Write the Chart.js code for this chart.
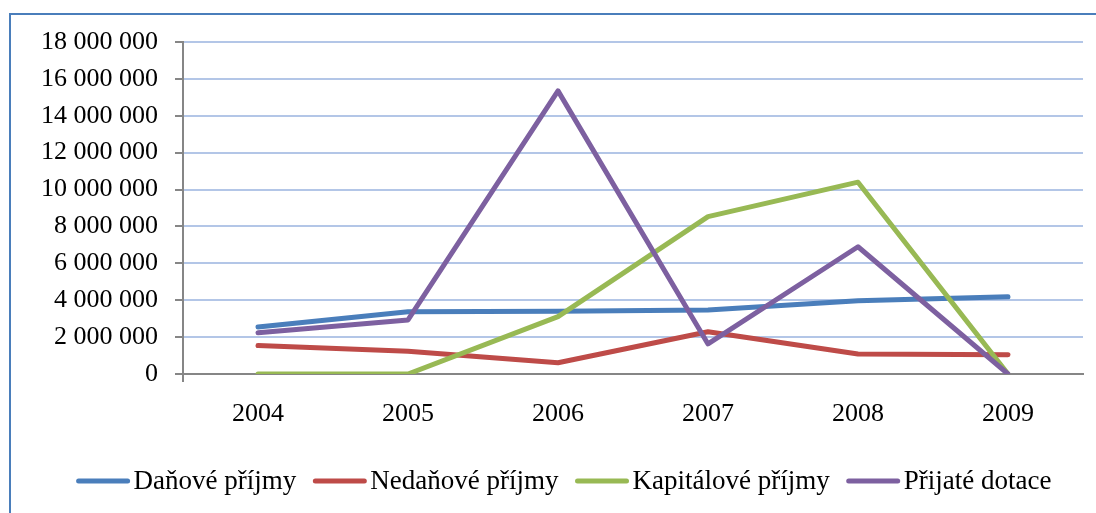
<!DOCTYPE html>
<html>
<head>
<meta charset="utf-8">
<script src="https://cdn.jsdelivr.net/npm/chart.js@4/dist/chart.umd.min.js"></script>
<style>
  html, body { margin: 0; padding: 0; background: #fff; }
  #wrap { position: relative; width: 1096px; height: 513px; overflow: hidden; }
  #frame { position: absolute; left: 9px; top: 13px; width: 1200px; height: 600px;
           border-left: 2px solid #4A7EBB; border-top: 2px solid #4A7EBB; }
  #c { position: absolute; left: 0; top: 0; }
</style>
</head>
<body>
<div id="wrap">
  <div id="frame"></div>
  <canvas id="c" width="1096" height="513"></canvas>
</div>
<script>
const categories = ['2004', '2005', '2006', '2007', '2008', '2009'];
const danovePrijmy    = [2550000, 3380000, 3400000, 3470000, 3970000, 4190000];
const nedanovePrijmy  = [1540000, 1230000,  610000, 2290000, 1080000, 1050000];
const kapitalovePrijmy = [0, 0, 3110000, 8530000, 10400000, 0];
const prijateDotace   = [2240000, 2930000, 15350000, 1630000, 6900000, 0];
const seriesNames = ['Daňové příjmy', 'Nedaňové příjmy', 'Kapitálové příjmy', 'Přijaté dotace'];
const seriesColors = ['#4A7EBB', '#BE4B48', '#98B954', '#7D60A0'];
const yMin = 0, yMax = 18000000, yStep = 2000000;

const FONT = 'Liberation Serif, "Times New Roman", serif';

const legendPlugin = {
  id: 'customLegend',
  afterDraw(chart) {
    const ctx = chart.ctx;
    ctx.save();
    ctx.font = '27px ' + FONT;
    ctx.textBaseline = 'middle';
    ctx.textAlign = 'left';
    const lineW = 53, gapText = 4, gapItem = 17;
    const ds = chart.data.datasets;
    let total = 0;
    ds.forEach((d, i) => {
      total += lineW + gapText + ctx.measureText(d.label).width;
      if (i < ds.length - 1) total += gapItem;
    });
    let x = 564 - total / 2;
    const y = 481;
    ds.forEach((d) => {
      ctx.strokeStyle = d.borderColor;
      ctx.lineWidth = 5;
      ctx.lineCap = 'round';
      ctx.beginPath();
      ctx.moveTo(x + 2, y);
      ctx.lineTo(x + lineW - 2, y);
      ctx.stroke();
      x += lineW + gapText;
      ctx.fillStyle = '#000';
      ctx.fillText(d.label, x, y + 1);
      x += ctx.measureText(d.label).width + gapItem;
    });
    ctx.restore();
  }
};

const seriesData = [danovePrijmy, nedanovePrijmy, kapitalovePrijmy, prijateDotace];

new Chart(document.getElementById('c'), {
  type: 'line',
  data: {
    labels: categories,
    datasets: seriesData.map((vals, i) => ({
      label: seriesNames[i],
      data: vals,
      borderColor: seriesColors[i],
      backgroundColor: seriesColors[i],
      borderWidth: 5,
      pointRadius: 0,
      tension: 0,
      borderCapStyle: 'round',
      borderJoinStyle: 'round',
      fill: false,
      order: 4 - i
    }))
  },
  options: {
    responsive: false,
    animation: false,
    events: [],
    layout: { padding: { left: 0, right: 13, top: 42, bottom: 0 } },
    plugins: { legend: { display: false }, tooltip: { enabled: false } },
    scales: {
      x: {
        offset: true,
        afterFit(scale) { scale.height = 139; },
        grid: {
          offset: true,
          drawOnChartArea: false,
          drawTicks: true,
          tickLength: 8,
          color: (c) => (c.index === 0 ? '#868686' : 'rgba(0,0,0,0)'),
          lineWidth: 2
        },
        border: { display: true, color: '#868686', width: 2 },
        ticks: { color: '#000', font: { family: FONT, size: 26 }, padding: 17, maxRotation: 0 }
      },
      y: {
        min: yMin,
        max: yMax,
        afterFit(scale) { scale.width = 183; },
        grid: {
          color: (c) => (c.tick && c.tick.value === 0 ? '#868686' : '#B3C6E7'),
          lineWidth: 2,
          tickLength: 8,
          tickColor: '#868686',
          tickWidth: 2
        },
        border: { display: true, color: '#868686', width: 2 },
        ticks: {
          stepSize: yStep,
          color: '#000',
          padding: 17,
          font: { family: FONT, size: 26 },
          callback: (v) => String(v).replace(/\B(?=(\d{3})+(?!\d))/g, ' ')
        }
      }
    }
  },
  plugins: [legendPlugin]
});
</script>
</body>
</html>
